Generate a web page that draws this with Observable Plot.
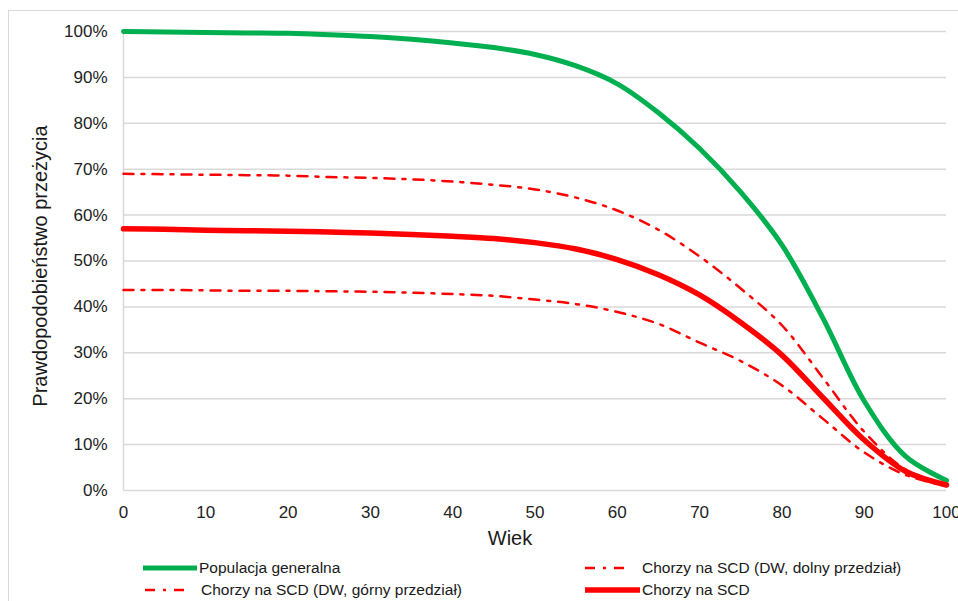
<!DOCTYPE html>
<html><head><meta charset="utf-8">
<script src="https://cdn.jsdelivr.net/npm/d3@7"></script>
<script src="https://cdn.jsdelivr.net/npm/@observablehq/plot@0.6"></script>
<style>
body{margin:0;overflow:hidden;background:#fff;font-family:"Liberation Sans",Arial,sans-serif;}
#wrap{position:relative;width:958px;height:601px;overflow:hidden;background:#fff;}
#border{position:absolute;left:8px;top:10px;width:1000px;height:700px;border-top:1.5px solid #D9D9D9;border-left:1.5px solid #D9D9D9;}
#chart{position:absolute;left:0;top:0;}
.sw{position:absolute;}
.lt{position:absolute;font-size:15.5px;color:#1a1a1a;white-space:nowrap;line-height:1;}
</style></head><body>
<div id="wrap"><div id="border"></div><div id="chart"></div></div>
<script>
// ---- data ----
const ages = [0,5,10,15,20,25,30,35,40,45,50,55,60,65,70,75,80,85,90,95,100];
const populacja = [100,99.9,99.8,99.7,99.6,99.3,98.9,98.3,97.5,96.5,95.0,92.5,88.6,82.3,74.5,65.0,53.5,37.5,19.5,7.5,2.2];
const gorny = [69.0,68.9,68.8,68.7,68.6,68.3,68.1,67.8,67.3,66.6,65.6,63.8,61.0,56.8,51.0,44.0,36.0,24.5,12.8,4.6,1.2];
const dolny = [43.7,43.7,43.6,43.5,43.5,43.4,43.3,43.1,42.8,42.4,41.6,40.6,38.9,36.3,32.2,28.2,22.9,15.6,8.3,3.4,1.0];
const scd = [57.0,56.9,56.7,56.6,56.5,56.3,56.1,55.8,55.4,54.9,54.0,52.6,50.3,47.0,42.6,36.6,29.5,20.2,11.0,4.2,1.2];
const xTicks = [0,10,20,30,40,50,60,70,80,90,100];
const yTicks = [0,10,20,30,40,50,60,70,80,90,100];
const seriesNames = ["Populacja generalna","Chorzy na SCD (DW, dolny przedział)","Chorzy na SCD (DW, górny przedział)","Chorzy na SCD"];
const xTitle = "Wiek";
const yTitle = "Prawdopodobieństwo przeżycia";

const GREEN = "#00B050", RED = "#FF0000";
const dash = "10,8,3,8";
const mk = (vals) => ages.map((a,i)=>({age:a, v:vals[i]}));

const chart = Plot.plot({
  width: 958, height: 550,
  marginLeft: 123, marginRight: 12, marginTop: 31, marginBottom: 60,
  x: {domain:[0,100]},
  y: {domain:[0,100]},
  style: {fontFamily:"'Liberation Sans', Arial, sans-serif", fontSize:"17px", color:"#222", background:"transparent", overflow:"visible"},
  marks: [
    Plot.ruleY(yTicks, {stroke:"#D9D9D9", strokeWidth:1.5}),
    Plot.ruleX([0], {stroke:"#D9D9D9", strokeWidth:1.5}),
    Plot.axisY({ticks:yTicks, tickSize:0, tickPadding:16, tickFormat:d=>d+"%", label:null, fontSize:17}),
    Plot.axisX({ticks:xTicks, tickSize:0, tickPadding:15, label:null, fontSize:17}),
    Plot.line(mk(populacja), {x:"age", y:"v", stroke:GREEN, strokeWidth:5, curve:"catmull-rom"}),
    Plot.line(mk(dolny), {x:"age", y:"v", stroke:RED, strokeWidth:2.5, strokeDasharray:dash, curve:"catmull-rom"}),
    Plot.line(mk(gorny), {x:"age", y:"v", stroke:RED, strokeWidth:2.5, strokeDasharray:dash, curve:"catmull-rom"}),
    Plot.line(mk(scd), {x:"age", y:"v", stroke:RED, strokeWidth:5.5, curve:"catmull-rom"}),
    Plot.text([xTitle], {frameAnchor:"bottom", dx:-25, dy:40, lineAnchor:"top", fontSize:20, fill:"#1a1a1a"}),
    Plot.text([yTitle], {frameAnchor:"left", dx:-83, dy:5, rotate:-90, textAnchor:"middle", lineAnchor:"middle", fontSize:20, fill:"#1a1a1a"})
  ]
});
document.getElementById("chart").appendChild(chart);

// ---- legend (below the SVG) ----
const wrap = document.getElementById("wrap");
const legendItems = [
  {name:seriesNames[0], color:GREEN, w:5, dash:null, x1:143, x2:197, tx:199, cy:568},
  {name:seriesNames[1], color:RED, w:2.5, dash:dash, x1:585, x2:630, tx:642, cy:568},
  {name:seriesNames[2], color:RED, w:2.5, dash:dash, x1:145, x2:190, tx:201, cy:590},
  {name:seriesNames[3], color:RED, w:5.5, dash:null, x1:585, x2:640, tx:642, cy:590}
];
for (const it of legendItems) {
  const ns = "http://www.w3.org/2000/svg";
  const s = document.createElementNS(ns, "svg");
  s.setAttribute("class","sw");
  s.setAttribute("width", it.x2 - it.x1);
  s.setAttribute("height", 10);
  s.style.left = it.x1 + "px";
  s.style.top = (it.cy - 5) + "px";
  const l = document.createElementNS(ns, "line");
  l.setAttribute("x1", 0); l.setAttribute("x2", it.x2 - it.x1);
  l.setAttribute("y1", 5); l.setAttribute("y2", 5);
  l.setAttribute("stroke", it.color); l.setAttribute("stroke-width", it.w);
  if (it.dash) l.setAttribute("stroke-dasharray", it.dash);
  else l.setAttribute("stroke-linecap","round");
  s.appendChild(l);
  wrap.appendChild(s);
  const t = document.createElement("div");
  t.className = "lt";
  t.textContent = it.name;
  t.style.left = it.tx + "px";
  t.style.top = (it.cy - 8) + "px";
  wrap.appendChild(t);
}
</script>
</body></html>
